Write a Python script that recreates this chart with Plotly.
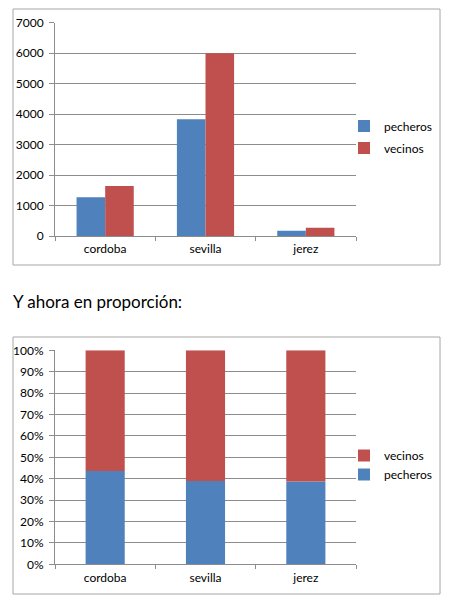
import plotly.graph_objects as go

# datos
ciudades = ['cordoba', 'sevilla', 'jerez']
pecheros = [1270, 3830, 170]
vecinos = [1640, 6000, 270]

# proporciones para el segundo grafico
totales = [p + v for p, v in zip(pecheros, vecinos)]
pct_pecheros = [p / t * 100 for p, t in zip(pecheros, totales)]
pct_vecinos = [v / t * 100 for v, t in zip(vecinos, totales)]

azul = '#4F81BD'
rojo = '#C0504D'
gris = '#8C8C8C'
fuente = 'Lato, Liberation Sans, sans-serif'

# la pagina tiene 8px de margen en el body
OFF = 8
W, H = 460 - OFF, 608 - OFF

def px_x(v):
    return (v - OFF) / W

def px_y(v):
    return 1 - (v - OFF) / H

fig = go.Figure()

# grafico de arriba: barras agrupadas
fig.add_trace(go.Bar(x=ciudades, y=pecheros, name='pecheros', marker_color=azul,
                     xaxis='x', yaxis='y', legend='legend', offsetgroup='a',
                     legendgroup='p1'))
fig.add_trace(go.Bar(x=ciudades, y=vecinos, name='vecinos', marker_color=rojo,
                     xaxis='x', yaxis='y', legend='legend', offsetgroup='b',
                     legendgroup='v1'))

# grafico de abajo: apilado al 100%
fig.add_trace(go.Bar(x=ciudades, y=pct_pecheros, name='pecheros', marker_color=azul,
                     xaxis='x2', yaxis='y2', legend='legend2', offsetgroup='c',
                     width=0.39, legendgroup='p2'))
fig.add_trace(go.Bar(x=ciudades, y=pct_vecinos, base=pct_pecheros, name='vecinos',
                     marker_color=rojo, xaxis='x2', yaxis='y2', legend='legend2',
                     offsetgroup='c', width=0.39, legendgroup='v2'))

fig.update_traces(marker_line_width=0)

eje_x = dict(showline=True, linecolor=gris, ticks='outside', tickson='boundaries',
             ticklen=4, tickcolor=gris, showgrid=False, automargin=False,
             ticklabelstandoff=2,
             tickfont=dict(family=fuente, size=12, color='#000'),
             domain=[px_x(55), px_x(356)])
eje_y = dict(showline=True, linecolor=gris, ticks='outside', ticklen=5, tickcolor=gris,
             showgrid=True, gridcolor=gris, gridwidth=1, zeroline=False, automargin=False,
             ticklabelstandoff=3,
             tickfont=dict(family=fuente, size=12, color='#000'))

leyenda = dict(xanchor='left', yanchor='middle', itemwidth=30, tracegroupgap=3,
               font=dict(family=fuente, size=12, color='#000'),
               bgcolor='rgba(0,0,0,0)')

fig.update_layout(
    width=W, height=H,
    margin=dict(l=0, r=0, t=0, b=0),
    paper_bgcolor='white', plot_bgcolor='white',
    barmode='group', bargap=0.43, bargroupgap=0,
    xaxis=dict(eje_x, anchor='y'),
    yaxis=dict(eje_y, anchor='x', range=[0, 7000], dtick=1000,
               domain=[px_y(236), px_y(22.7)]),
    xaxis2=dict(eje_x, anchor='y2'),
    yaxis2=dict(eje_y, anchor='x2', range=[0, 100], dtick=10, ticksuffix='%',
                domain=[px_y(564.3), px_y(350.3)]),
    legend=dict(leyenda, x=px_x(344), y=px_y(137)),
    legend2=dict(leyenda, x=px_x(344), y=px_y(465), traceorder='reversed'),
    shapes=[
        dict(type='rect', xref='paper', yref='paper', x0=px_x(13), x1=px_x(440),
             y0=px_y(265), y1=px_y(9), line=dict(color='#A6A6A6', width=1)),
        dict(type='rect', xref='paper', yref='paper', x0=px_x(13), x1=px_x(440),
             y0=px_y(594), y1=px_y(337), line=dict(color='#A6A6A6', width=1)),
    ],
    annotations=[
        dict(text='Y ahora en proporción:', xref='paper', yref='paper',
             x=px_x(11), y=px_y(301), xanchor='left', yanchor='middle',
             showarrow=False, font=dict(family=fuente, size=17, color='#000')),
    ],
)

fig.write_html('out.html')
